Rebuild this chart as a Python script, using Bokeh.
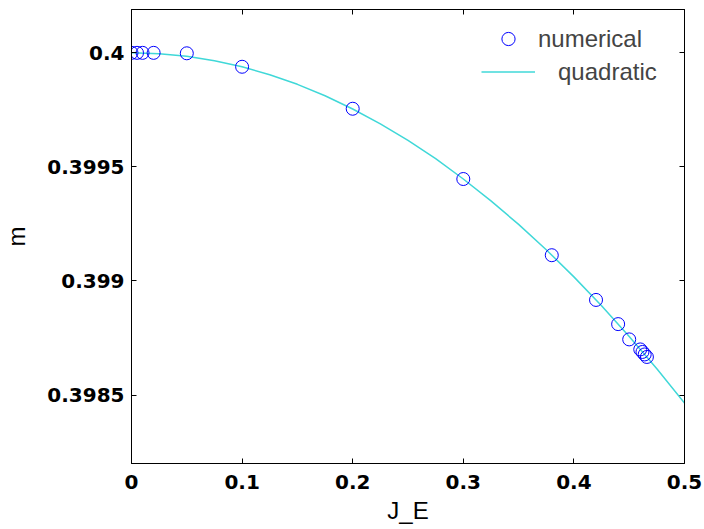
from bokeh.plotting import figure
from bokeh.models import LinearAxis, Range1d, Legend, LegendItem, FixedTicker
from bokeh.embed import file_html
from bokeh.resources import INLINE

# numerical solution
j_num = [0.0, 0.005, 0.01, 0.02, 0.05, 0.1, 0.2, 0.3, 0.38, 0.42, 0.44, 0.45,
         0.46, 0.462, 0.464, 0.466]
m_num = [0.4, 0.4, 0.4, 0.4, 0.399998, 0.399939, 0.399755, 0.399447,
         0.399113, 0.398917, 0.398811, 0.398744, 0.3987, 0.398689, 0.398678, 0.398667]

# quadratic fit curve
j_fit = [0.0, 0.025, 0.05, 0.075, 0.1, 0.125, 0.15, 0.175, 0.2, 0.225, 0.25,
         0.275, 0.3, 0.325, 0.35, 0.375, 0.4, 0.425, 0.45, 0.475, 0.5]
m_fit = [0.4, 0.399996, 0.399985, 0.399965, 0.399939, 0.399904, 0.399862,
         0.399812, 0.399754, 0.399689, 0.399616, 0.399536, 0.399447, 0.399351,
         0.399248, 0.399137, 0.399018, 0.398891, 0.398757, 0.398615, 0.398465]

x_ticks = [0, 0.1, 0.2, 0.3, 0.4, 0.5]
x_tick_labels = ["0", "0.1", "0.2", "0.3", "0.4", "0.5"]
y_ticks = [0.3985, 0.399, 0.3995, 0.4]
y_tick_labels = ["0.3985", "0.399", "0.3995", "0.4"]

p = figure(width=704, height=529, output_backend="svg", toolbar_location=None,
           x_range=Range1d(0, 0.5), y_range=Range1d(0.3982, 0.40019),
           min_border_left=129, min_border_right=20, min_border_top=9,
           min_border_bottom=66)
p.grid.visible = False
p.outline_line_color = "black"
p.outline_line_width = 1
p.background_fill_color = "white"
p.border_fill_color = "white"

TICK_FONT = "DejaVu Sans"

def style_axis(ax, ticks, labels, show_labels=True):
    ax.ticker = FixedTicker(ticks=ticks)
    ax.major_label_overrides = {t: l for t, l in zip(ticks, labels)}
    ax.major_tick_in = 5
    ax.major_tick_out = 0
    ax.minor_tick_in = 0
    ax.minor_tick_out = 0
    ax.axis_line_color = "black"
    ax.major_tick_line_color = "black"
    ax.major_label_text_font = TICK_FONT
    ax.major_label_text_font_style = "bold"
    ax.major_label_text_font_size = "20px"
    ax.major_label_text_color = "black"
    if not show_labels:
        ax.major_label_text_font_size = "0px"
        ax.major_label_text_alpha = 0

style_axis(p.xaxis[0], x_ticks, x_tick_labels)
style_axis(p.yaxis[0], y_ticks, y_tick_labels)
p.xaxis[0].major_label_standoff = 11
p.yaxis[0].major_label_standoff = 7
p.xaxis[0].axis_label = "J_E"
p.yaxis[0].axis_label = "m"
for ax in (p.xaxis[0], p.yaxis[0]):
    ax.axis_label_text_font = "Liberation Sans"
    ax.axis_label_text_font_style = "normal"
    ax.axis_label_text_font_size = "24px"
    ax.axis_label_text_color = "black"
p.xaxis[0].axis_label_standoff = 5
p.yaxis[0].axis_label_standoff = 14

top = LinearAxis()
right = LinearAxis()
style_axis(top, x_ticks, x_tick_labels, show_labels=False)
style_axis(right, y_ticks, y_tick_labels, show_labels=False)
p.add_layout(top, "above")
p.add_layout(right, "right")

line = p.line(j_fit, m_fit, line_color="#40d8d8", line_width=1.5)
circ = p.scatter(j_num, m_num, marker="circle", size=13, fill_color=None,
                 line_color="#0000ff", line_width=1)

legend = Legend(items=[LegendItem(label="numerical", renderers=[circ]),
                       LegendItem(label="\u00a0\u00a0\u00a0quadratic", renderers=[line])],
                location=(350, 375), padding=0, spacing=0, margin=0,
                glyph_width=54, glyph_height=33, label_height=33, label_standoff=3,
                label_text_font="Liberation Sans", label_text_font_size="24px",
                border_line_color=None, background_fill_alpha=0)
p.add_layout(legend, "center")

open("out.html", "w").write(file_html(p, INLINE))
